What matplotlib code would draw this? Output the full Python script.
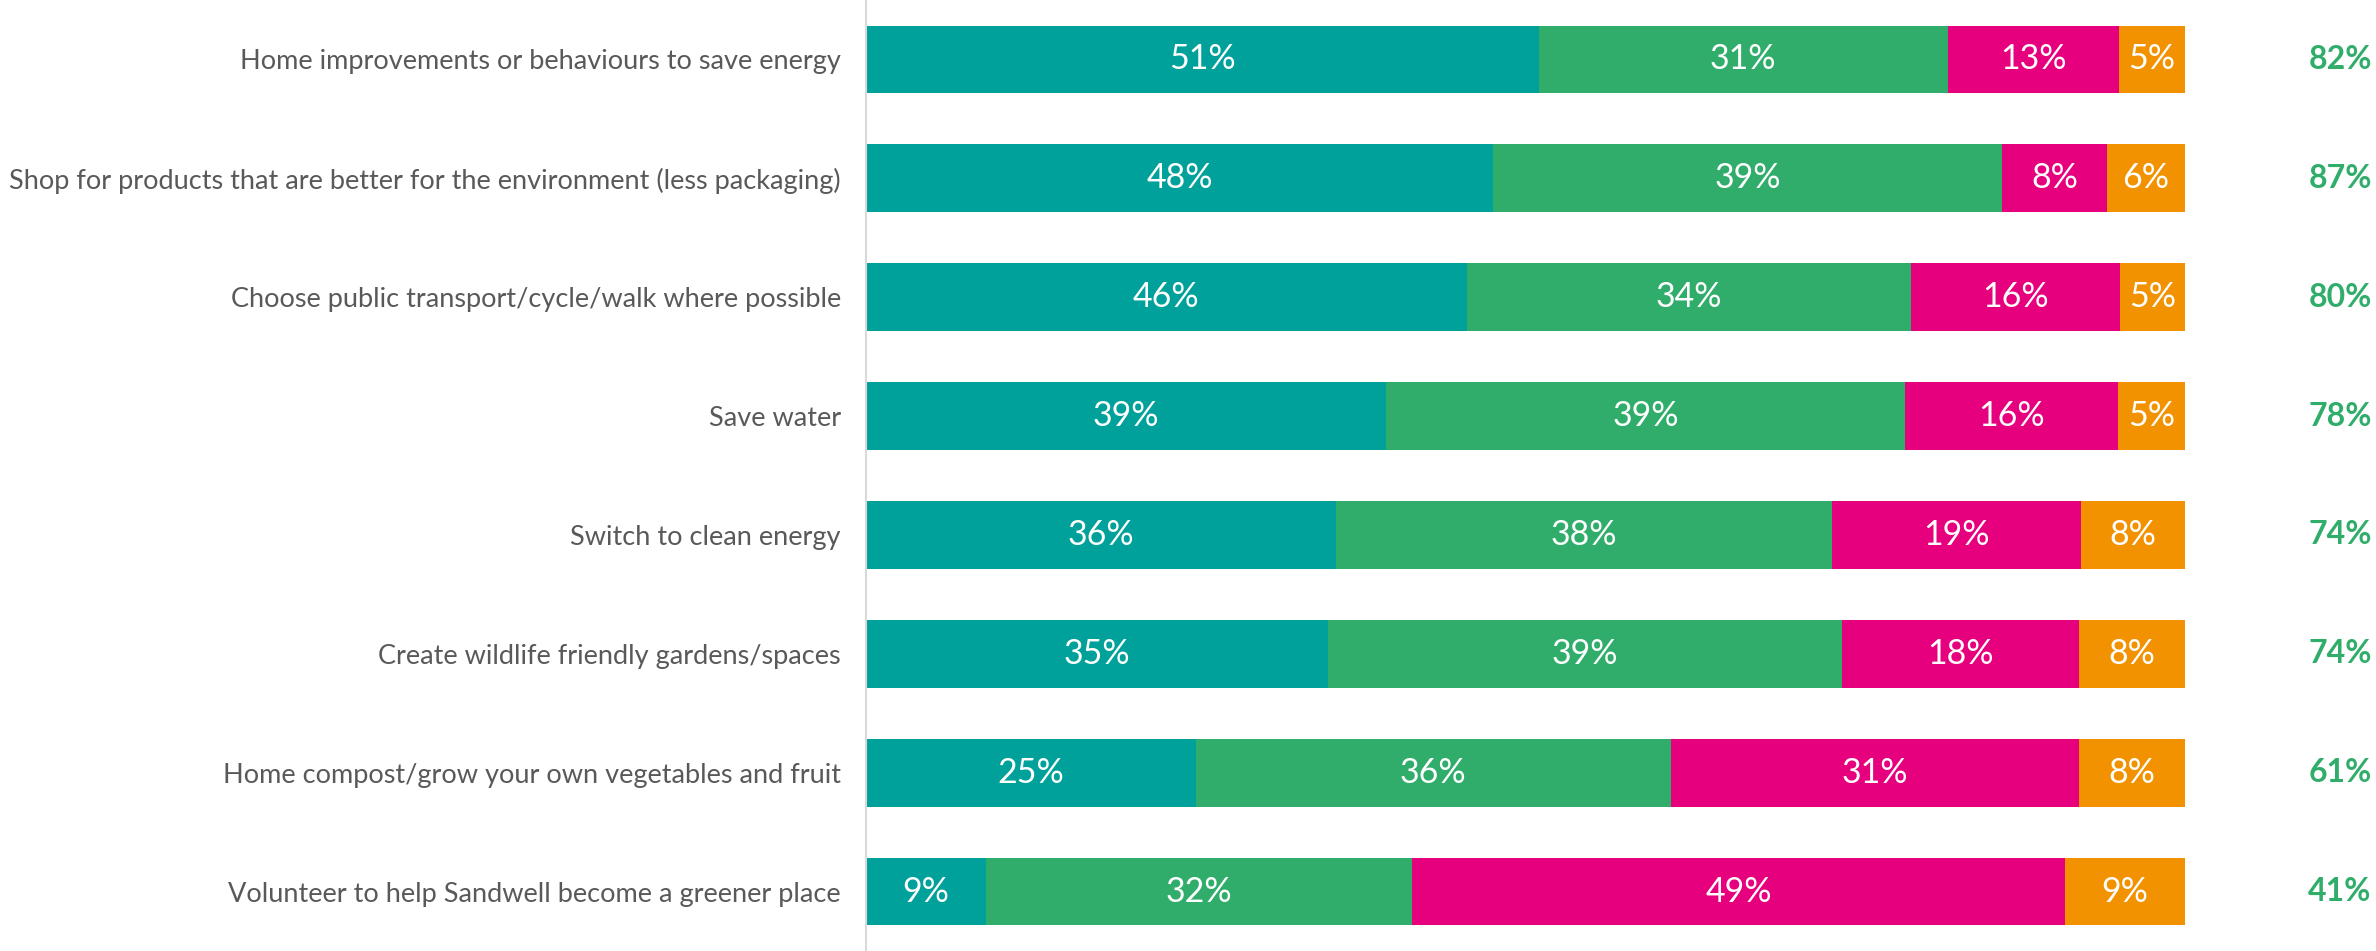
import matplotlib
matplotlib.use("Agg")
import matplotlib.pyplot as plt
from matplotlib.transforms import blended_transform_factory
import numpy as np

categories = [
    "Home improvements or behaviours to save energy",
    "Shop for products that are better for the environment (less packaging)",
    "Choose public transport/cycle/walk where possible",
    "Save water",
    "Switch to clean energy",
    "Create wildlife friendly gardens/spaces",
    "Home compost/grow your own vegetables and fruit",
    "Volunteer to help Sandwell become a greener place",
]
already_do = [51, 48, 46, 39, 36, 35, 25, 9]
would_do = [31, 39, 34, 39, 38, 39, 36, 32]
would_not = [13, 8, 16, 16, 19, 18, 31, 49]
dont_know = [5, 6, 5, 5, 8, 8, 8, 9]
net_totals = [82, 87, 80, 78, 74, 74, 61, 41]

series = [already_do, would_do, would_not, dont_know]
colors = ["#00A19A", "#31AD6B", "#E6007E", "#F39200"]

plt.rcParams["font.family"] = ["Lato", "DejaVu Sans"]

W, H = 2376, 951
fig = plt.figure(figsize=(W / 100, H / 100), dpi=100)
ax = fig.add_axes([866 / W, 0.0, (2185 - 866) / W, 1.0])

# 100% stacked bars: each row scaled to its own total
vals = np.array(series, dtype=float)
shares = vals / vals.sum(axis=0) * 100
y = np.arange(len(categories))
left = np.zeros(len(categories))
for sh, raw, col in zip(shares, vals, colors):
    ax.barh(y, sh, left=left, height=0.57, color=col, edgecolor="none")
    for yi, (l, w, v) in enumerate(zip(left, sh, raw)):
        ax.text(l + w / 2, yi, f"{int(v)}%", ha="center", va="center",
                color="white", fontsize=24.5)
    left += sh

ax.set_xlim(0, 100)
ax.set_ylim(len(categories) - 0.5, -0.5)
ax.set_xticks([])
ax.set_yticks(y)
ax.set_yticklabels(categories, fontsize=19.5, color="#595959")
ax.tick_params(axis="y", length=0, pad=18)
for s in ["top", "right", "bottom"]:
    ax.spines[s].set_visible(False)
ax.spines["left"].set_color("#D9D9D9")
ax.spines["left"].set_linewidth(1.5)

# net totals in the right margin
trans = blended_transform_factory(fig.transFigure, ax.transData)
for yi, t in enumerate(net_totals):
    ax.text(2340 / W, yi, f"{t}%", transform=trans, ha="center", va="center",
            color="#31AD6B", fontsize=23, fontweight="bold", clip_on=False)

fig.savefig("out.png", dpi=100)
